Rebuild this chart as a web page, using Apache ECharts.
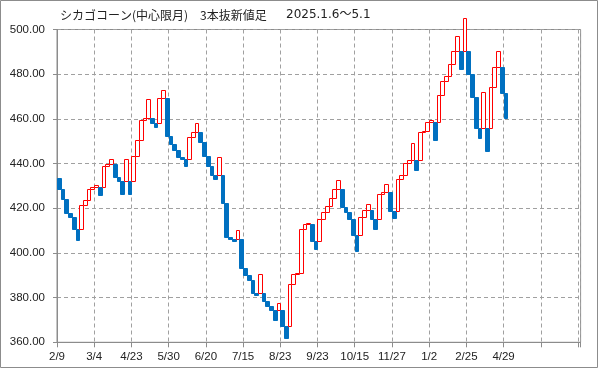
<!DOCTYPE html>
<html><head><meta charset="utf-8">
<script src="https://cdn.jsdelivr.net/npm/echarts@6/dist/echarts.min.js"></script>
<style>html,body{margin:0;padding:0;background:#fff}#c{width:599px;height:369px}</style>
</head><body><div id="c"></div>
<script>
const titleMain = 'シカゴコーン(中心限月)　3本抜新値足';
const titleDate = '2025.1.6～5.1';
const tickLabels = ['2/9','3/4','4/23','5/30','6/20','7/15','8/23','9/23','10/15','11/27','1/2','2/25','4/29'];
const yTicks = [360, 380, 400, 420, 440, 460, 480, 500];
const opens = [
  433.6,428.8,424.3,417.7,416.2,410.8,410.8,421.6,423.5,428.5,
  429.7,429.7,429.7,438.7,439.9,439.9,433.9,432.4,432.4,432.4,
  432.4,443.2,450.5,459.7,460.2,460.2,458.2,458.2,469.5,469.5,
  452.3,448.7,446.0,443.1,442.1,442.1,452.1,454.0,454.0,449.6,
  443.2,439.1,434.8,434.8,434.8,422.2,407.0,406.3,406.3,406.3,
  393.1,390.1,388.0,382.2,382.2,382.2,378.7,376.3,374.6,374.6,
  374.6,367.4,367.4,386.2,390.4,390.8,410.9,412.8,412.8,405.4,
  405.4,415.4,418.2,421.0,424.8,428.8,428.8,420.6,418.4,415.4,
  408.2,408.2,416.1,419.1,419.1,415.2,415.2,426.2,427.2,427.2,
  418.8,418.8,432.9,435.1,440.1,441.8,441.8,441.8,454.0,454.5,
  458.5,458.5,458.5,470.7,477.0,479.1,484.5,490.3,490.3,490.3,
  490.3,480.0,469.6,456.1,456.1,456.1,456.1,474.1,483.0,483.0,
  471.8
];
const closes = [
  428.8,424.3,417.7,416.2,410.8,405.7,421.6,423.5,428.5,429.7,
  430.2,426.1,438.7,439.9,442.0,433.9,432.4,426.4,442.0,426.4,
  443.2,450.5,459.7,460.2,469.1,458.2,456.4,469.5,472.7,452.3,
  448.7,446.0,443.1,442.1,438.8,452.1,454.0,458.1,449.6,443.2,
  439.1,434.8,433.0,442.9,422.2,407.0,406.3,405.2,410.3,393.1,
  390.1,388.0,382.2,381.3,390.4,378.7,376.3,374.6,370.1,377.6,
  367.4,362.0,386.2,390.4,390.8,410.9,412.8,413.2,405.4,401.9,
  415.4,418.2,421.0,424.8,428.8,432.5,420.6,418.4,415.4,408.2,
  400.9,416.1,419.1,421.8,415.2,410.8,426.2,427.2,431.0,418.8,
  415.7,432.9,435.1,440.1,441.8,449.0,437.3,454.0,454.5,458.5,
  459.7,450.5,470.7,477.0,479.1,484.5,490.3,497.0,482.2,505.0,
  480.0,469.6,456.1,451.6,471.9,445.4,474.1,483.0,490.2,471.8,
  460.6
];
const bricks = closes.map((c, i) => [i, opens[i], c]);
const gray = '#8c8c8c';
const chart = echarts.init(document.getElementById('c'), null, {renderer: 'canvas'});
chart.setOption({
  animation: false,
  backgroundColor: '#fff',
  graphic: [
    {type: 'rect', shape: {x: 0.5, y: 0.5, width: 597, height: 367}, style: {fill: 'none', stroke: gray, lineWidth: 1}, silent: true},
    {type: 'text', left: 60, top: 9, style: {text: titleMain, font: '12px "Noto Sans CJK JP"', fill: '#222'}},
    {type: 'text', left: 286, top: 9, style: {text: titleDate, font: '12px "DejaVu Sans", "Noto Sans CJK JP"', fill: '#222'}}
  ],
  grid: {left: 57, right: 18.4, top: 29.5, bottom: 26.7, show: true, borderColor: gray, borderWidth: 1, backgroundColor: 'transparent'},
  xAxis: {
    type: 'value', min: 0, max: 140.7, interval: 10,
    axisLine: {show: true, onZero: false, lineStyle: {color: gray}},
    axisTick: {show: true, length: 5, lineStyle: {color: gray}},
    axisLabel: {margin: 9, fontSize: 11.5, fontFamily: 'Liberation Sans', color: '#222',
      formatter: v => (Math.abs(v % 10) < 1e-6 && tickLabels[Math.round(v / 10)]) || ''},
    splitLine: {show: true, lineStyle: {color: '#a0a0a0', type: [4, 3]}}
  },
  yAxis: {
    type: 'value', min: yTicks[0], max: yTicks[yTicks.length - 1], interval: 20,
    axisLine: {show: true, lineStyle: {color: gray}},
    axisTick: {show: true, length: 4, lineStyle: {color: gray}},
    axisLabel: {margin: 12, fontSize: 11.5, fontFamily: 'Liberation Sans', color: '#222', formatter: v => v.toFixed(2)},
    splitLine: {show: true, lineStyle: {color: '#a0a0a0', type: [4, 3]}}
  },
  series: [{
    type: 'custom',
    clip: false,
    data: bricks,
    renderItem: (params, api) => {
      const i = api.value(0), o = api.value(1), c = api.value(2);
      const up = c > o;
      const p0 = api.coord([i, Math.max(o, c)]);
      const p1 = api.coord([i + 1, Math.min(o, c)]);
      const x0 = Math.round(p0[0]), x1 = Math.round(p1[0]);
      const y0 = Math.round(p0[1]), y1 = Math.round(p1[1]);
      return {
        type: 'rect',
        shape: {x: x0 + 0.5, y: y0 + 0.5, width: x1 - x0, height: Math.max(y1 - y0, 1)},
        style: {fill: up ? '#ffffff' : '#0070C0', stroke: up ? '#FF0000' : '#0070C0', lineWidth: 1}
      };
    }
  }]
});
</script></body></html>
